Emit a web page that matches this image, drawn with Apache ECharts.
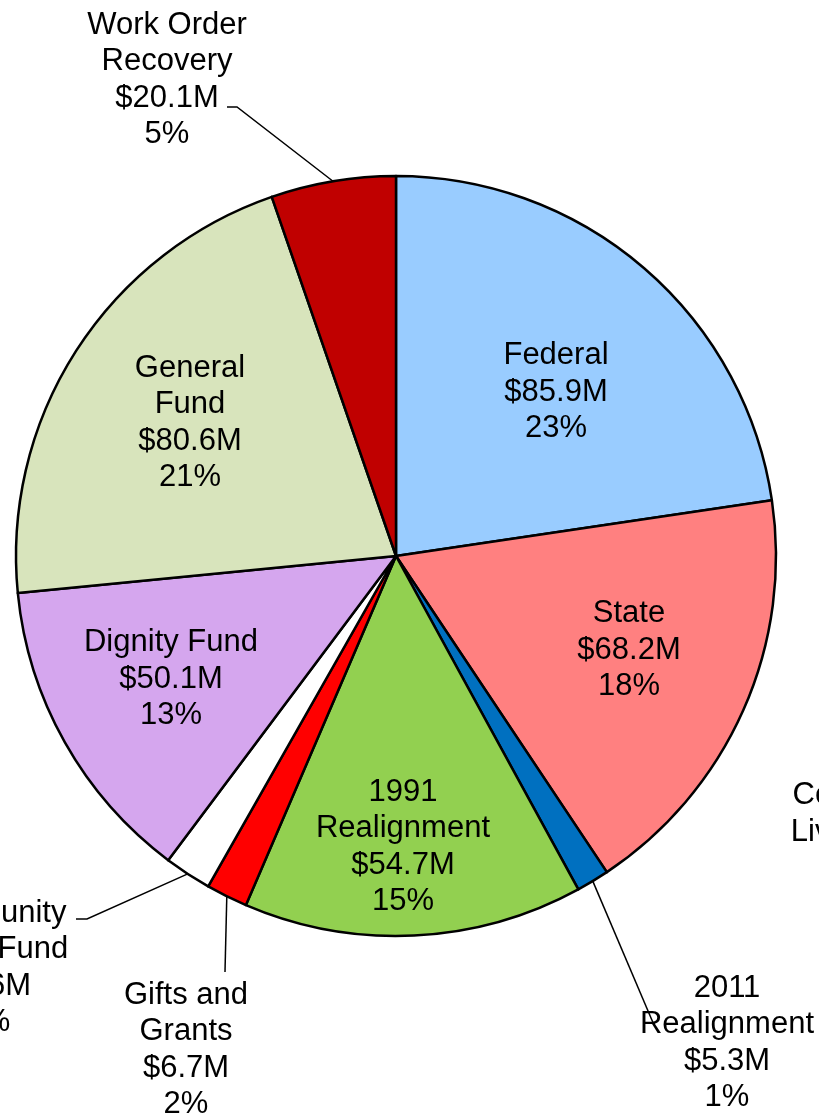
<!DOCTYPE html>
<html>
<head>
<meta charset="utf-8">
<title>Funding sources</title>
<script src="https://cdn.jsdelivr.net/npm/echarts@6/dist/echarts.min.js"></script>
<style>
html, body { margin: 0; padding: 0; background: #fff; }
#main { width: 819px; height: 1116px; }
</style>
</head>
<body>
<div id="main"></div>
<script>
// slices, clockwise from 12 o'clock
const sources = ['Federal', 'State', '2011\nRealignment', '1991\nRealignment', 'Gifts and\nGrants',
	'Community\nLiving Fund', 'Dignity Fund', 'General\nFund', 'Work Order\nRecovery'];
const amounts = [85.9, 68.2, 5.3, 54.7, 6.7, 7.6, 50.1, 80.6, 20.1];   // $M
const shares = ['23%', '18%', '1%', '15%', '2%', '2%', '13%', '21%', '5%'];

const colors = ['#99ccff', '#ff8080', '#0070c0', '#92d050', '#ff0000', '#ffffff', '#d5a6ee', '#d8e4bc', '#c00000'];
const outside = [2, 4, 5, 8];

// label centres (px)
const labelAt = [[556, 392], [629, 650], [727, 1043], [403, 847], [186, 1050], [-12, 968], [171, 679], [190, 423], [167, 80]];
// leader line bends / ends (px), start comes from the slice
const leaders = { 2: [[654, 1025]], 4: [[225, 972]], 5: [[87, 919], [76, 919]], 8: [[237, 107], [227, 107]] };

const font = 'Liberation Sans, Arial, sans-serif';

const chart = echarts.init(document.getElementById('main'));

const data = sources.map((name, i) => ({
	name: name,
	value: amounts[i],
	itemStyle: { color: colors[i] },
	label: { position: outside.includes(i) ? 'outside' : 'inside' },
	labelLine: { show: outside.includes(i) }
}));

chart.setOption({
	animation: false,
	backgroundColor: '#fff',
	series: [{
		type: 'pie',
		center: [396, 556],
		radius: [0, 380],
		startAngle: 90,
		clockwise: true,
		avoidLabelOverlap: false,
		itemStyle: { borderColor: '#000', borderWidth: 2.5 },
		label: {
			color: '#000',
			fontFamily: font,
			fontSize: 31,
			lineHeight: 36.5,
			align: 'center',
			formatter: p => p.name + '\n$' + p.value.toFixed(1) + 'M\n' + shares[p.dataIndex]
		},
		labelLine: { lineStyle: { color: '#000', width: 1.5 }, length: 20, length2: 10 },
		labelLayout: function (params) {
			const i = params.dataIndex;
			const out = { x: labelAt[i][0], y: labelAt[i][1], align: 'center', verticalAlign: 'middle' };
			if (leaders[i] && params.labelLinePoints) {
				out.labelLinePoints = [params.labelLinePoints[0]].concat(leaders[i]);
			}
			return out;
		},
		emphasis: { disabled: true },
		data: data
	}],
	graphic: [{
		type: 'text',
		x: 871,
		y: 814,
		style: {
			text: 'Community\nLiving Fund',
			fill: '#000',
			fontFamily: font,
			fontSize: 31,
			lineHeight: 36.5,
			align: 'center',
			verticalAlign: 'middle'
		}
	}]
});
</script>
</body>
</html>
